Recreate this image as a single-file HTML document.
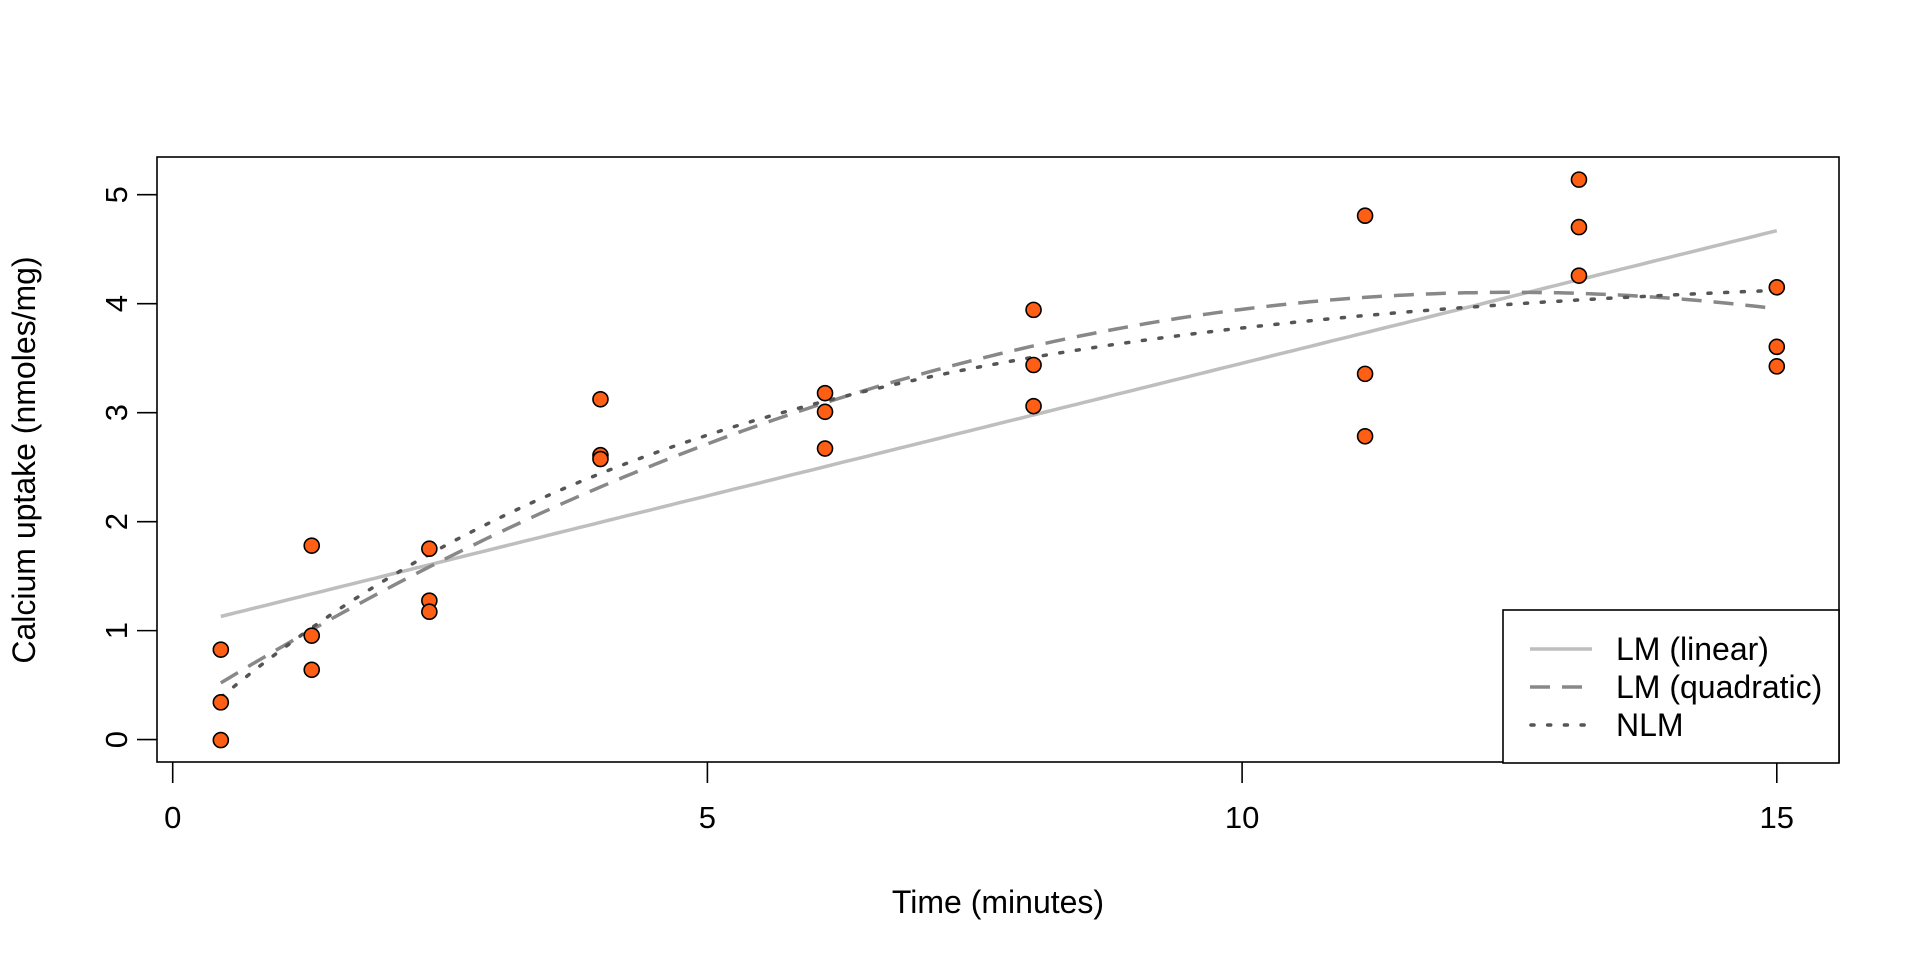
<!DOCTYPE html>
<html><head><meta charset="utf-8"><style>
html,body{margin:0;padding:0;background:#fff;}
svg{display:block;}
text{font-family:"Liberation Sans",Arial,sans-serif;fill:#000;}
</style></head><body>
<svg id="s" width="1920" height="960" xmlns="http://www.w3.org/2000/svg">
<rect x="157" y="157" width="1682" height="605" fill="none" stroke="#000" stroke-width="1.6"/>
<g id="curves"></g>
<g id="pts"></g>
<g id="axes" stroke="#000" stroke-width="1.6"></g>
<g id="labs" font-size="31"></g>
<text x="998" y="913" font-size="32" text-anchor="middle">Time (minutes)</text>
<text transform="translate(35,460) rotate(-90)" font-size="32" text-anchor="middle">Calcium uptake (nmoles/mg)</text>
<rect x="1503" y="610" width="336" height="153" fill="#fff" stroke="#000" stroke-width="1.6"/>
<line x1="1530" y1="649" x2="1592" y2="649" stroke="#bebebe" stroke-width="3.5"/>
<line x1="1530" y1="687" x2="1592" y2="687" stroke="#888" stroke-width="3.5" stroke-dasharray="20,12"/>
<line x1="1531" y1="725" x2="1592" y2="725" stroke="#555" stroke-width="3.5" stroke-dasharray="3,13.7" stroke-linecap="round"/>
<text x="1616" y="660" font-size="32">LM (linear)</text>
<text x="1616" y="698" font-size="32">LM (quadratic)</text>
<text x="1616" y="736" font-size="32">NLM</text>
</svg>
<script>
var ns="http://www.w3.org/2000/svg";
function X(x){return 172.7+x*106.94;}
function Y(v){return 739.6-v*108.98;}
function el(t,a,p){var e=document.createElementNS(ns,t);for(var k in a)e.setAttribute(k,a[k]);p.appendChild(e);return e;}
var t=[0.45,1.30,2.40,4.00,6.10,8.05,11.15,13.15,15.00];
var c=[0.34170,-0.00438,0.82531,1.77967,0.95384,0.64080,1.75136,1.27497,1.17332,3.12273,2.60958,2.57429,3.17881,3.00782,2.67061,3.05959,3.94321,3.43726,4.80735,3.35583,2.78309,5.13825,4.70274,4.25702,3.60407,4.15029,3.42484];
var cv=document.getElementById('curves');
function path(f,attrs){var d="";for(var i=0;i<=200;i++){var x=0.45+(15-0.45)*i/200;d+=(i?"L":"M")+X(x).toFixed(1)+","+Y(f(x)).toFixed(1);}attrs.d=d;attrs.fill="none";el('path',attrs,cv);}
path(function(x){return 1.13+(4.67-1.13)*(x-0.45)/14.55;},{stroke:"#bebebe","stroke-width":3.5});
path(function(x){return 0.248+0.616*x-0.0246*x*x;},{stroke:"#888","stroke-width":3.5,"stroke-dasharray":"20,12"});
path(function(x){return 4.31*(1-Math.exp(-0.209*x));},{stroke:"#555","stroke-width":3.5,"stroke-dasharray":"3,13.7","stroke-linecap":"round"});
var pg=document.getElementById('pts');
for(var i=0;i<27;i++){el('circle',{cx:X(t[Math.floor(i/3)]),cy:Y(c[i]),r:7.5,fill:"#ff5f15",stroke:"#000","stroke-width":1.6},pg);}
var ax=document.getElementById('axes'),lb=document.getElementById('labs');
[0,5,10,15].forEach(function(v){el('line',{x1:X(v),y1:762,x2:X(v),y2:783},ax);var tx=el('text',{x:X(v),y:828,"text-anchor":"middle"},lb);tx.textContent=v;});
[0,1,2,3,4,5].forEach(function(v){el('line',{x1:137,y1:Y(v),x2:157,y2:Y(v)},ax);var tx=el('text',{transform:"translate(127,"+Y(v)+") rotate(-90)","text-anchor":"middle"},lb);tx.textContent=v;});
</script>
</body></html>
